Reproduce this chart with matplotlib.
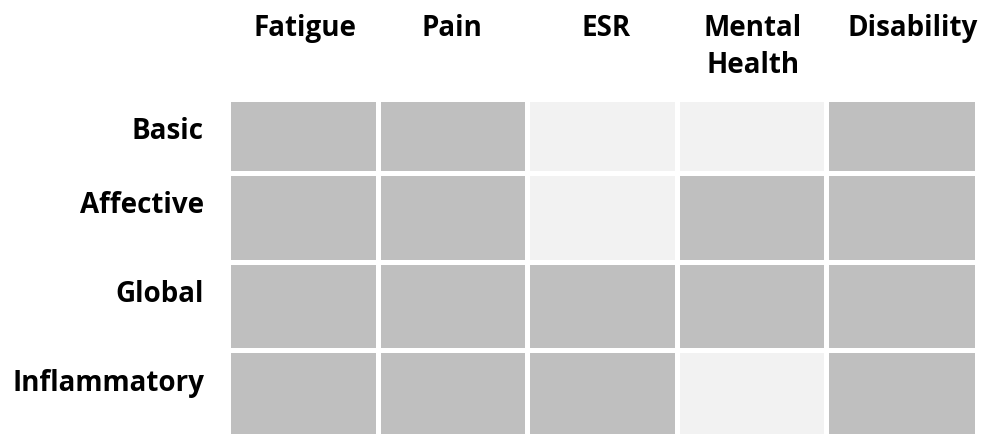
import numpy as np
import matplotlib
matplotlib.use("Agg")
import matplotlib.pyplot as plt
from matplotlib.colors import ListedColormap

# outcome columns and model rows
outcomes = ["Fatigue", "Pain", "ESR", "Mental\nHealth", "Disability"]
models = ["Basic", "Affective", "Global", "Inflammatory"]

# 1 = shaded (dark) cell, 0 = light cell
shaded = np.array([
    [1, 1, 0, 0, 1],
    [1, 1, 0, 1, 1],
    [1, 1, 1, 1, 1],
    [1, 1, 1, 0, 1],
])

# layout in pixels (figure is 990 x 435)
col_edges = np.array([227.5, 377.5, 527.0, 676.5, 825.5, 976.5])
row_edges = np.array([99.5, 173.5, 262.5, 351.0, 440.0])

fig = plt.figure(figsize=(9.9, 4.35), dpi=100)
ax = fig.add_axes([0, 0, 1, 1])
ax.set_xlim(0, 990)
ax.set_ylim(435, 0)
ax.axis("off")

cmap = ListedColormap(["#F2F2F2", "#BFBFBF"])
ax.pcolormesh(col_edges, row_edges, shaded, cmap=cmap, vmin=0, vmax=1,
              edgecolor="white", linewidth=2.3)

font = dict(family=["Open Sans", "DejaVu Sans"], fontweight="bold",
            fontsize=20, color="black")

col_centers = (col_edges[:-1] + col_edges[1:]) / 2
nudge = [2, 0, 4, 2, 12]  # Disability spills a bit to the right
for x, dx, name in zip(col_centers, nudge, outcomes):
    ax.text(x + dx, 14, name, ha="center", va="top", linespacing=1.36, **font)

for top, name in zip(row_edges[:-1], models):
    ax.text(204, top + 40, name, ha="right", va="baseline", **font)

fig.savefig("out.png", dpi=100, facecolor="white")
